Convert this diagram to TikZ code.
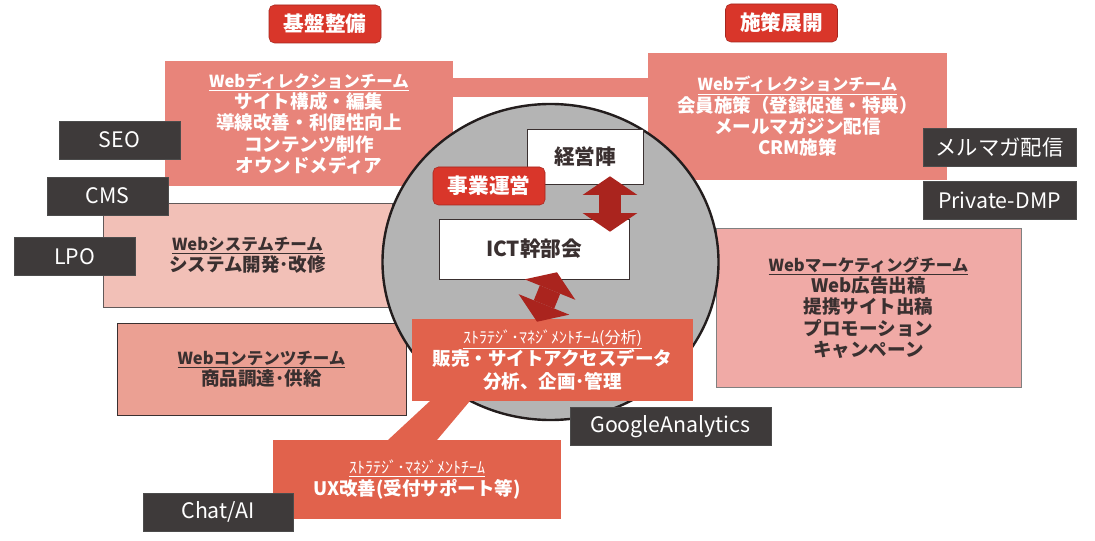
\documentclass[tikz,border=0pt]{standalone}
\usepackage{fontspec}
\setmainfont{Noto Sans CJK JP}
\usetikzlibrary{arrows.meta,positioning,calc,shapes.geometric}
\definecolor{ItRed}{RGB}{217,54,42}
\definecolor{ItRedDark}{RGB}{165,38,30}
\definecolor{ItSalmon}{RGB}{232,132,122}
\definecolor{ItPinkLight}{RGB}{242,192,183}
\definecolor{ItPink}{RGB}{235,160,147}
\definecolor{ItRose}{RGB}{240,170,166}
\definecolor{ItTomato}{RGB}{225,98,76}
\definecolor{ItArrow}{RGB}{170,36,30}
\definecolor{ItDark}{RGB}{62,58,58}
\definecolor{ItGrey}{RGB}{180,180,180}
\definecolor{ItText}{RGB}{58,48,48}
\newcommand{\teamtitle}[1]{{\fontsize{12.4}{16}\selectfont\underline{#1}}}
\newcommand{\stratitle}[1]{{\fontsize{12}{17}\selectfont\mdseries\underline{#1}}}

\begin{document}
\begin{tikzpicture}[
  x=0.75pt,y=-0.75pt,
  tagbox/.style={rounded corners=4pt,draw=ItRedDark,fill=ItRed,text=white,inner sep=0pt,
                 font=\fontsize{15.5}{18}\selectfont\bfseries,minimum width=84pt,minimum height=28.5pt},
  team/.style={inner sep=0pt,align=center,font=\fontsize{13.9}{16}\selectfont\bfseries},
  whitebox/.style={draw=ItText,fill=white,text=ItText,inner sep=0pt,
                   font=\fontsize{15.5}{18}\selectfont\bfseries},
  tool/.style={draw=black!70,fill=ItDark,text=white,inner sep=0pt,
               font=\fontsize{16}{18}\selectfont,minimum width=90.75pt,minimum height=28.5pt},
  twoway/.style={draw=ItArrow,line width=16.5pt,
                 {Triangle[length=14pt,width=41pt,line width=0pt]}-{Triangle[length=14pt,width=41pt,line width=0pt]}}
]
\useasboundingbox (0,0) rectangle (1095,541);

% teams around the hub
\fill[ItSalmon] (440,78) rectangle (660,97);
\node[team,fill=ItSalmon,text=white,minimum width=216pt,minimum height=93.75pt] (dirL) at (309,123.5)
  {\teamtitle{Webディレクションチーム}\\サイト構成・編集\\導線改善・利便性向上\\コンテンツ制作\\オウンドメディア};
\node[team,fill=ItSalmon,text=white,minimum width=224.25pt,minimum height=95.25pt] (dirR) at (797.5,116.5)
  {\teamtitle{Webディレクションチーム}\\会員施策（登録促進・特典）\\メールマガジン配信\\CRM施策};
\node[team,draw=ItText!80,fill=ItPinkLight,text=ItText,minimum width=216.75pt,minimum height=78pt] (websys) at (247.5,255)
  {\teamtitle{Webシステムチーム}\\システム開発･改修};
\node[team,draw=ItText,fill=ItPink,text=ItText,minimum width=216.75pt,minimum height=69pt] (webcon) at (261.5,369)
  {\teamtitle{Webコンテンツチーム}\\商品調達･供給};
\node[team,draw=black!50,fill=ItRose,text=ItText,minimum width=228.75pt,minimum height=119.25pt] (webmkt) at (868.5,307.5)
  {\teamtitle{Webマーケティングチーム}\\Web広告出稿\\提携サイト出稿\\プロモーション\\キャンペーン};

% hub
\node[ellipse,draw=ItText!60!black,line width=1.8pt,fill=ItGrey,minimum width=252pt,minimum height=237pt] (hub) at (550.5,262) {};
\node[whitebox,minimum width=87pt,minimum height=41.25pt] (keiei) at (585,156.5) {経営陣};
\node[tagbox] (jigyo) at (489,186) {事業運営};
\node[whitebox,minimum width=142.5pt,minimum height=45pt] (ict) at (534,249) {ICT幹部会};
\draw[twoway] ($(keiei.south)+(25,-8)$) -- ($(ict.north)+(76,13)$);

% strategy teams
\fill[ItTomato] (436.5,395) -- (475,395) -- (432.8,445) -- (382.6,445) -- cycle;
\node[team,fill=ItTomato,text=white,minimum width=210.75pt,minimum height=61.5pt,
      font=\fontsize{13.9}{17}\selectfont\bfseries] (strat) at (552.5,360)
  {\stratitle{ｽﾄﾗﾃｼﾞ･ﾏﾈｼﾞﾒﾝﾄﾁｰﾑ(分析)}\\販売・サイトアクセスデータ\\分析、企画･管理};
\node[team,fill=ItTomato,text=white,minimum width=216pt,minimum height=59.25pt] (ux) at (417,479.5)
  {\stratitle{ｽﾄﾗﾃｼﾞ･ﾏﾈｼﾞﾒﾝﾄﾁｰﾑ}\\UX改善(受付サポート等)};
\draw[twoway] ($(ict.south)+(23,-7)$) -- ($(strat.north)+(-15.5,3)$);

% tools
\node[tool] (seo) at (119.5,140) {SEO};
\node[tool] (cms) at (107.5,196) {CMS};
\node[tool] (lpo) at (74.5,256.5) {LPO};
\node[tool,minimum width=112.5pt] (chat) at (218,512) {Chat/AI};
\node[tool,minimum width=150.75pt] (ga) at (670.5,426.5) {GoogleAnalytics};
\node[tool,minimum width=114.75pt] (mailmag) at (999.5,147) {メルマガ配信};
\node[tool,minimum width=114.75pt,below=11.25pt of mailmag] (dmp) {Private-DMP};

\node[tagbox] (kiban) at (325,24) {基盤整備};
\node[tagbox] (shisaku) at (781.5,23) {施策展開};
\end{tikzpicture}
\end{document}
